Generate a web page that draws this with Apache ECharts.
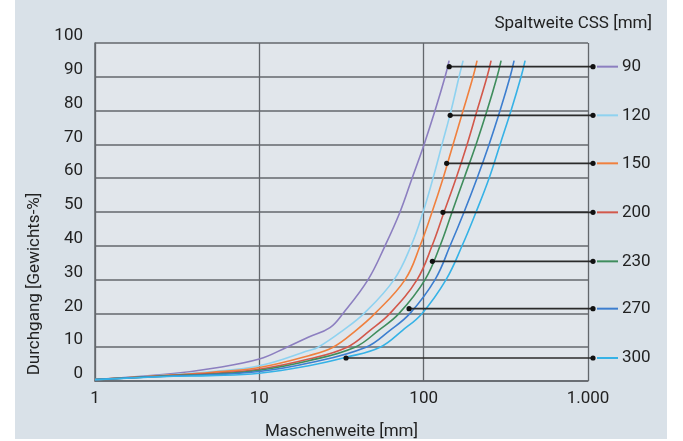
<!DOCTYPE html>
<html>
<head>
<meta charset="utf-8">
<script src="https://cdn.jsdelivr.net/npm/echarts@6/dist/echarts.min.js"></script>
<style>
html,body{margin:0;padding:0;background:#ffffff;}
#wrap{position:relative;width:683px;height:441px;}
#bg{position:absolute;left:15px;top:0;width:652px;height:439px;background:#d9e1e8;}
#chart{position:absolute;left:0;top:0;width:683px;height:441px;}
</style>
</head>
<body>
<div id="wrap"><div id="bg"></div><div id="chart"></div></div>
<script>
// Spaltweite CSS [mm] – series names
const cssLabels = ['90', '120', '150', '200', '230', '270', '300'];
const seriesColors = ['#8c7fc0', '#8fd2f0', '#f0803e', '#d2584b', '#3f8d5d', '#3d7ecf', '#36b2e6'];

// Sieve curves: [Maschenweite mm, Durchgang %]
const curve90  = [[1,0.4],[3,2.2],[5,3.6],[10,6.5],[14.7,10],[20,13],[26.9,15.8],[32.3,20],[45.9,30],[58.2,40],[71.8,50],[85,60],[100.6,70],[117.3,80],[135,90],[142.8,94.8]];
const curve120 = [[1,0.4],[3,1.9],[5,2.7],[10,4.5],[20,9],[22.8,10],[32.3,15],[43.4,20],[66.1,30],[83.8,40],[99.2,50],[114,60],[129.4,70],[146.8,80],[164.2,90],[173.8,94.8]];
const curve150 = [[1,0.4],[3,1.8],[5,2.5],[10,4],[20,7.5],[28.1,10],[38.8,15],[50.6,20],[77.1,30],[95.1,40],[112.5,50],[131.3,60],[151,70],[173.8,80],[199.8,90],[211.3,94.8]];
const curve200 = [[1,0.4],[3,1.7],[5,2.2],[10,3.5],[20,6.5],[34.2,10],[47.2,15],[62.4,20],[91.2,30],[112.5,40],[133.1,50],[157.5,60],[183.8,70],[211.3,80],[243.1,90],[257.2,94.8]];
const curve230 = [[1,0.4],[3,1.6],[5,2],[10,3.2],[20,6],[38.2,10],[53.2,15],[70.9,20],[102,30],[125.9,40],[148.9,50],[176.2,60],[208.4,70],[243.1,80],[279.7,90],[295.9,94.8]];
const curve270 = [[1,0.4],[3,1.5],[5,1.8],[10,2.8],[20,5.3],[44.6,10],[62.4,15],[82.6,20],[117.3,30],[144.8,40],[176.2,50],[211.3,60],[250.1,70],[291.7,80],[335.7,90],[354.9,94.8]];
const curve300 = [[1,0.4],[3,1.4],[5,1.6],[10,2.3],[20,4.5],[33.7,7],[54.3,10],[74.4,15],[97.8,20],[136.9,30],[171.3,40],[208.4,50],[250.1,60],[291.7,70],[340.3,80],[391.5,90],[414.2,94.8]];
const curves = [curve90, curve120, curve150, curve200, curve230, curve270, curve300];

// Leader lines: start point on the curve
const markerX = [143, 145, 138, 131, 113, 81.5, 33.7];
const markerY = [93, 78.6, 64.4, 49.9, 35.4, 21.4, 6.8];

// Axis ticks
const xTicks = [1, 10, 100, 1000];
const xTickLabels = ['1', '10', '100', '1.000'];

const FONT = 'Roboto';
const FS = 17;
const gridColor = '#63676c';

const chart = echarts.init(document.getElementById('chart'), null, {renderer: 'canvas'});

const lineSeries = curves.map((d, i) => ({
  type: 'line',
  name: cssLabels[i],
  data: d,
  smooth: 0.4,
  showSymbol: false,
  symbol: 'none',
  lineStyle: {color: seriesColors[i], width: 1.6},
  itemStyle: {color: seriesColors[i]},
  z: 3
}));

const markerData = markerX.map((x, i) => [x, markerY[i], i]);

const option = {
  backgroundColor: 'transparent',
  animation: false,
  title: {
    text: 'Spaltweite CSS [mm]',
    right: 31,
    top: 15,
    padding: 0,
    textStyle: {fontFamily: FONT, fontSize: FS, fontWeight: 'normal', color: '#222'}
  },
  grid: {
    left: 95, right: 95, top: 43, bottom: 60,
    containLabel: false,
    outerBoundsMode: 'none',
    show: true, backgroundColor: '#e1e6eb', borderWidth: 0
  },
  xAxis: {
    type: 'log',
    logBase: 10,
    min: 1,
    max: 1000,
    name: 'Maschenweite [mm]',
    nameLocation: 'middle',
    nameGap: 42,
    nameTextStyle: {fontFamily: FONT, fontSize: FS, color: '#222'},
    axisLine: {show: true, lineStyle: {color: gridColor, width: 1.5}},
    axisTick: {show: false},
    minorTick: {show: false},
    splitLine: {show: true, lineStyle: {color: gridColor, width: 1.3}},
    axisLabel: {
      fontFamily: FONT, fontSize: FS, color: '#222', margin: 9,
      formatter: v => {
        const k = xTicks.findIndex(t => Math.abs(t - v) < 1e-6 * t);
        return k >= 0 ? xTickLabels[k] : '';
      }
    }
  },
  yAxis: {
    type: 'value',
    min: 0,
    max: 100,
    interval: 10,
    name: 'Durchgang [Gewichts-%]',
    nameLocation: 'middle',
    nameGap: 50,
    nameRotate: 90,
    nameTextStyle: {fontFamily: FONT, fontSize: FS, color: '#222', padding: [0, 144, 0, 0]},
    axisLine: {show: true, lineStyle: {color: gridColor, width: 1.5}},
    axisTick: {show: false},
    splitLine: {show: true, lineStyle: {color: gridColor, width: 1.6}},
    axisLabel: {
      fontFamily: FONT, fontSize: FS, color: '#222', margin: 12,
      verticalAlign: 'bottom', lineHeight: 14
    }
  },
  series: lineSeries.concat([{
    type: 'custom',
    name: 'leaders',
    clip: false,
    z: 5,
    data: markerData,
    encode: {x: 0, y: 1},
    renderItem: function (params, api) {
      const x = api.value(0), y = api.value(1), idx = api.value(2);
      const p0 = api.coord([x, y]);
      const pr = api.coord([1000, y]);
      const xr = pr[0] + 5;
      const yy = p0[1];
      return {
        type: 'group',
        children: [
          {type: 'line', shape: {x1: p0[0], y1: yy, x2: xr, y2: yy}, style: {stroke: '#2b2b2b', lineWidth: 1.6}},
          {type: 'circle', shape: {cx: p0[0], cy: yy, r: 2.6}, style: {fill: '#111'}},
          {type: 'circle', shape: {cx: xr, cy: yy, r: 2.6}, style: {fill: '#111'}},
          {type: 'line', shape: {x1: xr + 4, y1: yy, x2: xr + 25, y2: yy}, style: {stroke: seriesColors[idx], lineWidth: 2}},
          {type: 'text', style: {text: cssLabels[idx], x: xr + 29, y: yy, verticalAlign: 'middle', align: 'left', fill: '#222', font: FS + 'px ' + FONT}}
        ]
      };
    }
  }])
};

chart.setOption(option);
</script>
</body>
</html>
